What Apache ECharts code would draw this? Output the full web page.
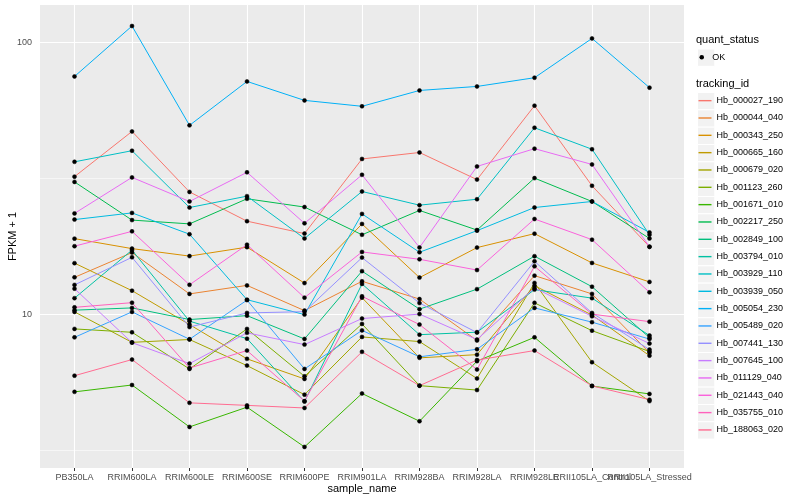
<!DOCTYPE html>
<html><head><meta charset="utf-8">
<script src="https://cdn.jsdelivr.net/npm/echarts@6/dist/echarts.min.js"></script>
<style>html,body{margin:0;padding:0;background:#fff}#c{width:800px;height:500px}</style>
</head><body><div id="c"></div>
<script>
const categories = ['PB350LA','RRIM600LA','RRIM600LE','RRIM600SE','RRIM600PE','RRIM901LA','RRIM928BA','RRIM928LA','RRIM928LE','RRII105LA_Control','RRII105LA_Stressed'];
const trackingIds = ['Hb_000027_190','Hb_000044_040','Hb_000343_250','Hb_000665_160','Hb_000679_020','Hb_001123_260','Hb_001671_010','Hb_002217_250','Hb_002849_100','Hb_003794_010','Hb_003929_110','Hb_003939_050','Hb_005054_230','Hb_005489_020','Hb_007441_130','Hb_007645_100','Hb_011129_040','Hb_021443_040','Hb_035755_010','Hb_188063_020'];
const colors = ['#F8766D','#EA8331','#D89000','#C09B00','#A3A500','#7CAE00','#39B600','#00BB4E','#00BF7D','#00C1A3','#00BFC4','#00BAE0','#00B0F6','#35A2FF','#9590FF','#C77CFF','#E76BF3','#FA62DB','#FF62BC','#FF6C91'];

const hb_000027_190 = [32.1, 47.1, 28.2, 22.0, 19.8, 37.3, 39.4, 31.3, 58.6, 29.7, 17.7];
const hb_000044_040 = [13.66, 16.85, 11.87, 12.76, 10.30, 13.21, 11.36, 7.99, 13.86, 11.87, 7.20];
const hb_000343_250 = [18.97, 17.43, 16.36, 17.65, 13.01, 21.49, 13.63, 17.58, 19.79, 15.44, 13.14];
const hb_000665_160 = [15.41, 12.20, 9.15, 6.84, 5.77, 11.50, 6.90, 7.09, 12.73, 9.92, 7.03];
const hb_000679_020 = [10.19, 7.87, 8.06, 6.46, 5.05, 8.24, 7.92, 5.79, 13.03, 6.65, 4.78];
const hb_001123_260 = [8.82, 8.57, 6.28, 8.82, 5.90, 9.20, 5.45, 5.25, 11.0, 8.69, 7.28];
const hb_001671_010 = [5.17, 5.48, 3.84, 4.54, 3.24, 5.10, 4.03, 6.71, 8.21, 5.43, 5.08];
const hb_002217_250 = [30.7, 22.2, 21.5, 26.6, 24.8, 19.6, 24.1, 20.4, 31.7, 26.0, 19.0];
const hb_002849_100 = [10.34, 10.54, 9.55, 9.87, 8.10, 14.40, 10.43, 12.36, 16.35, 12.62, 8.19];
const hb_003794_010 = [11.45, 17.21, 9.42, 8.12, 4.76, 12.92, 8.40, 8.58, 12.31, 11.45, 8.34];
const hb_003929_110 = [36.4, 40.0, 24.7, 27.2, 19.0, 28.3, 25.2, 26.5, 48.6, 40.5, 19.6];
const hb_003939_050 = [22.3, 23.6, 19.7, 11.3, 9.96, 23.4, 16.9, 20.3, 24.7, 26.0, 20.0];
const hb_005054_230 = [75.1, 115.2, 49.6, 72.0, 61.3, 58.3, 66.7, 69.0, 74.3, 103.7, 68.3];
const hb_005489_020 = [8.21, 10.19, 8.08, 11.26, 6.28, 8.71, 6.96, 7.42, 10.54, 9.34, 8.09];
const hb_007441_130 = [12.81, 16.19, 8.96, 10.10, 10.21, 16.15, 10.98, 8.55, 15.65, 10.10, 7.40];
const hb_007645_100 = [12.41, 7.85, 6.57, 8.53, 7.72, 9.63, 10.0, 8.06, 12.49, 9.81, 7.79];
const hb_011129_040 = [23.5, 31.9, 26.0, 33.3, 21.6, 32.6, 17.6, 35.0, 40.7, 35.6, 17.7];
const hb_021443_040 = [17.80, 20.18, 12.82, 18.03, 11.50, 16.95, 15.92, 14.53, 22.41, 18.81, 12.03];
const hb_035755_010 = [10.59, 11.02, 6.33, 7.34, 4.78, 11.63, 9.15, 6.25, 15.00, 10.0, 9.38];
const hb_188063_020 = [5.93, 6.80, 4.71, 4.61, 4.51, 7.26, 5.45, 6.77, 7.34, 5.44, 4.84];

const seriesValues = [hb_000027_190, hb_000044_040, hb_000343_250, hb_000665_160, hb_000679_020, hb_001123_260, hb_001671_010, hb_002217_250, hb_002849_100, hb_003794_010, hb_003929_110, hb_003939_050, hb_005054_230, hb_005489_020, hb_007441_130, hb_007645_100, hb_011129_040, hb_021443_040, hb_035755_010, hb_188063_020];

const yTickValues = [10, 100];
const yMinorGrid = [3.1623, 31.623];

const FONT = '"Liberation Sans", Arial, Helvetica, sans-serif';
const chart = echarts.init(document.getElementById('c'));
const idx = categories.map((_, i) => i);
// split the tick labels over two bottom axes so that the overlapping last two labels are both drawn
const idxEven = idx.filter(i => i % 2 === 0);
const idxOdd = idx.filter(i => i % 2 === 1);

const series = trackingIds.map((id, k) => ({
  name: id, type: 'line', zlevel: 1, z: 2, silent: true,
  data: seriesValues[k].map((v, i) => [i, v]),
  showSymbol: false, symbol: 'none',
  lineStyle: { color: colors[k], width: 1 },
  itemStyle: { color: colors[k] },
  emphasis: { disabled: true }
}));
series.push({
  name: 'OK', type: 'scatter', zlevel: 1, z: 3, silent: true,
  data: seriesValues.flatMap(vals => vals.map((v, i) => [i, v])),
  symbol: 'circle', symbolSize: 4,
  itemStyle: { color: '#000000', borderColor: '#000000', borderWidth: 0.5, opacity: 1 }
});
const major = { color: '#ffffff', width: 1.1, type: 'solid' };
const minor = { color: '#ffffff', width: 0.55, type: 'solid' };
series.push({
  name: '_grid', type: 'line', zlevel: 0, z: 1, silent: true, data: [],
  markLine: {
    silent: true, symbol: 'none', label: { show: false }, animation: false,
    emphasis: { disabled: true },
    data: [
      ...idx.map(i => ({ xAxis: i, lineStyle: major })),
      ...yTickValues.map(v => ({ yAxis: v, lineStyle: major })),
      ...yMinorGrid.map(v => ({ yAxis: v, lineStyle: minor }))
    ]
  }
});

const keyH = 17.33;
const graphics = [
  { type: 'text', left: 696, top: 34.5, z: 10, style: { text: 'quant_status', font: '11px ' + FONT, fill: '#000' } },
  { type: 'text', left: 696, top: 78, z: 10, style: { text: 'tracking_id', font: '11px ' + FONT, fill: '#000' } },
  { type: 'rect', left: 697, top: 48.5, z: 0, shape: { width: 17.3, height: keyH }, style: { fill: '#F2F2F2', stroke: '#fff', lineWidth: 1 } }
];
trackingIds.forEach((_, k) => graphics.push({
  type: 'rect', left: 697, top: 92 + k * keyH, z: 0,
  shape: { width: 17.3, height: keyH }, style: { fill: '#F2F2F2', stroke: '#fff', lineWidth: 1 }
}));

const xLabelStyle = { formatter: v => categories[Math.round(v)] || '', color: '#4D4D4D', fontSize: 9, fontFamily: FONT, margin: 5, hideOverlap: false };

chart.setOption({
  animation: false,
  backgroundColor: '#ffffff',
  textStyle: { fontFamily: FONT },
  grid: { show: true, backgroundColor: '#EBEBEB', borderWidth: 0, left: 40, right: 116, top: 5, bottom: 32, containLabel: false, outerBoundsMode: 'none' },
  xAxis: [{
    type: 'value', min: -0.6, max: 10.6, position: 'bottom',
    axisLine: { show: false },
    axisTick: { show: true, customValues: idx, length: 3, lineStyle: { color: '#333333', width: 1 } },
    axisLabel: Object.assign({ customValues: idxEven }, xLabelStyle),
    splitLine: { show: false },
    name: 'sample_name', nameLocation: 'middle', nameGap: 15, nameMoveOverlap: false,
    nameTextStyle: { color: '#000', fontSize: 11, fontFamily: FONT }
  }, {
    type: 'value', min: -0.6, max: 10.6, position: 'bottom', offset: 0,
    axisLine: { show: false },
    axisTick: { show: false },
    axisLabel: Object.assign({ customValues: idxOdd }, xLabelStyle),
    splitLine: { show: false }
  }],
  yAxis: {
    type: 'log', logBase: 10, min: 2.71, max: 137.7,
    axisLine: { show: false },
    axisTick: { show: true, customValues: yTickValues, length: 3, lineStyle: { color: '#333333', width: 1 } },
    axisLabel: { customValues: yTickValues, formatter: v => String(Math.round(v)), color: '#4D4D4D', fontSize: 9, fontFamily: FONT, margin: 8 },
    splitLine: { show: false },
    name: 'FPKM + 1', nameLocation: 'middle', nameGap: 22, nameRotate: 90, nameMoveOverlap: false,
    nameTextStyle: { color: '#000', fontSize: 11, fontFamily: FONT }
  },
  legend: [
    {
      data: trackingIds.map((id, k) => ({ name: id, icon: 'rect', itemStyle: { color: colors[k], borderWidth: 0 } })),
      orient: 'vertical', left: 698.5, top: 92, itemWidth: 13, itemHeight: 1.4, itemGap: 0,
      padding: 0, selectedMode: false,
      textStyle: { fontSize: 9, color: '#000', lineHeight: keyH, fontFamily: FONT }
    },
    {
      data: [{ name: 'OK', icon: 'circle', itemStyle: { color: '#000', borderWidth: 0 } }],
      orient: 'vertical', left: 699.5, top: 48.5, itemWidth: 11, itemHeight: 4.5, itemGap: 0,
      padding: 0, selectedMode: false,
      textStyle: { fontSize: 9, color: '#000', lineHeight: keyH, fontFamily: FONT }
    }
  ],
  graphic: graphics,
  series: series
});
</script></body></html>
